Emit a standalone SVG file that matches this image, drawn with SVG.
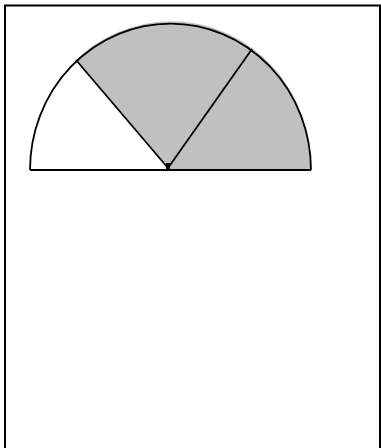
<svg xmlns="http://www.w3.org/2000/svg" width="381" height="448" viewBox="0 0 381 448">
<style>
.ln{fill:none;stroke:#000;stroke-width:1.8;stroke-linecap:butt;stroke-linejoin:miter}
</style>
<rect x="0" y="0" width="381" height="448" fill="#fff"/>
<rect id="frame" x="5" y="5.5" width="375" height="460" fill="none" stroke="#000" stroke-width="2"/>
<g id="chart">
<path id="gray-sector" d="M170 170 L76 60 A140 146 0 0 1 311 170 Z" fill="#c0c0c0"/>
<path id="white-sector" d="M170 170 L30 170 A140 146 0 0 1 76 60 Z" fill="#fff"/>
<path class="ln" d="M30 170 A140 146 0 0 1 311 170"/>
<line class="ln" x1="30" y1="170" x2="311" y2="170"/>
<line class="ln" x1="168" y1="168" x2="76" y2="60"/>
<line class="ln" x1="168" y1="168" x2="252" y2="49"/>
<rect x="166" y="163" width="4" height="7" fill="#000"/>
</g>
</svg>
